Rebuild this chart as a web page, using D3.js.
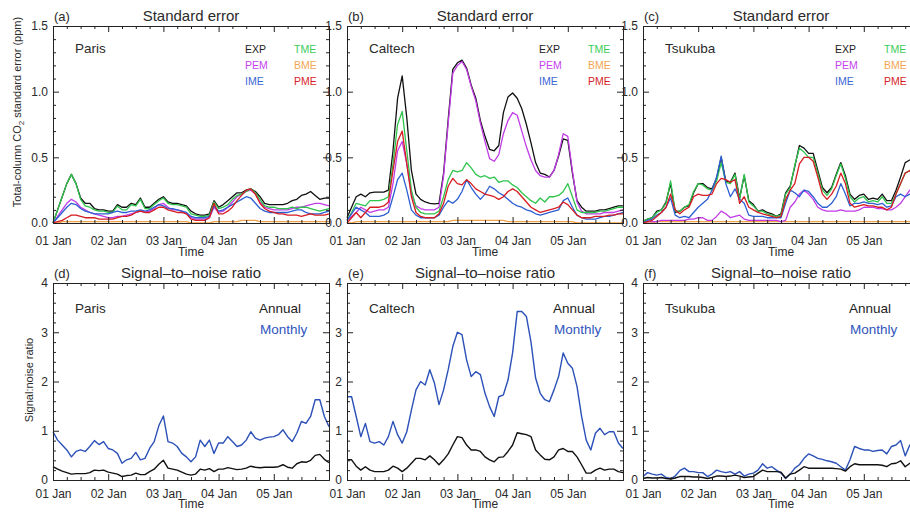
<!DOCTYPE html>
<html><head><meta charset="utf-8">
<script src="https://cdn.jsdelivr.net/npm/d3@7"></script>
<style>
body{margin:0;background:#fff}
svg{display:block}
text{font-family:"Liberation Sans",Arial,sans-serif}
</style>
</head><body>
<svg id="chart" width="910" height="512"></svg>
<script>
// ---------------- data ----------------
const hours = [0,2,4,6,8,10,12,14,16,18,20,22,24,26,28,30,32,34,36,38,40,42,44,46,48,50,52,54,56,58,
  60,62,64,66,68,70,72,74,76,78,80,82,84,86,88,90,92,94,96,98,100,102,104,106,108,110,112,114,116,118,120];
const dayTicks = [0,24,48,72,96,120];
const dayLabels = ["01 Jan","02 Jan","03 Jan","04 Jan","05 Jan"];
const sites = ["Paris","Caltech","Tsukuba"];
const seriesNames = ["EXP","PEM","IME","TME","BME","PME"];
const seTicks = [0,0.5,1.0,1.5];
const snrTicks = [0,1,2,3,4];
const panelLettersTop = ["(a)","(b)","(c)"];
const panelLettersBottom = ["(d)","(e)","(f)"];

// Paris standard error (ppm)
const parisEXP = [0.00,0.10,0.20,0.30,0.37,0.30,0.19,0.15,0.15,0.11,
 0.10,0.10,0.09,0.09,0.14,0.12,0.12,0.15,0.14,0.19,
 0.12,0.12,0.15,0.18,0.20,0.16,0.15,0.15,0.14,0.13,
 0.09,0.07,0.06,0.06,0.07,0.17,0.12,0.14,0.17,0.20,
 0.23,0.23,0.25,0.26,0.24,0.20,0.15,0.14,0.14,0.14,
 0.14,0.15,0.17,0.18,0.21,0.22,0.24,0.21,0.18,0.19,0.19];
const parisTME = [0.00,0.10,0.20,0.30,0.37,0.30,0.18,0.13,0.12,0.10,
 0.09,0.09,0.08,0.08,0.13,0.10,0.10,0.14,0.13,0.18,
 0.11,0.11,0.14,0.17,0.19,0.15,0.14,0.14,0.13,0.12,
 0.07,0.06,0.05,0.05,0.06,0.16,0.11,0.12,0.14,0.18,
 0.21,0.22,0.24,0.26,0.23,0.18,0.13,0.12,0.12,0.11,
 0.11,0.11,0.12,0.11,0.12,0.12,0.11,0.10,0.09,0.10,0.11];
const parisPEM = [0.00,0.05,0.10,0.15,0.18,0.16,0.12,0.10,0.08,0.07,
 0.06,0.05,0.04,0.04,0.05,0.05,0.06,0.07,0.08,0.09,
 0.08,0.09,0.11,0.14,0.15,0.12,0.10,0.10,0.09,0.07,
 0.04,0.03,0.03,0.03,0.04,0.12,0.08,0.09,0.12,0.16,
 0.20,0.22,0.24,0.25,0.22,0.16,0.12,0.11,0.10,0.10,
 0.10,0.10,0.11,0.12,0.12,0.13,0.14,0.15,0.15,0.14,0.13];
const parisIME = [0.00,0.04,0.08,0.12,0.15,0.14,0.11,0.09,0.08,0.07,
 0.07,0.07,0.07,0.08,0.09,0.08,0.08,0.09,0.09,0.10,
 0.09,0.10,0.12,0.14,0.13,0.11,0.11,0.10,0.09,0.08,
 0.05,0.04,0.04,0.04,0.05,0.13,0.09,0.10,0.12,0.14,
 0.16,0.18,0.20,0.19,0.15,0.11,0.09,0.08,0.08,0.08,
 0.08,0.08,0.09,0.10,0.10,0.08,0.07,0.07,0.07,0.08,0.09];
const parisBME = [0.00,0.00,0.01,0.01,0.01,0.01,0.01,0.01,0.01,0.01,
 0.01,0.01,0.01,0.01,0.01,0.01,0.01,0.01,0.01,0.01,
 0.01,0.01,0.01,0.01,0.01,0.01,0.01,0.01,0.01,0.01,
 0.00,0.00,0.00,0.00,0.00,0.01,0.01,0.01,0.01,0.01,
 0.01,0.02,0.02,0.02,0.02,0.01,0.01,0.01,0.01,0.01,
 0.01,0.01,0.01,0.01,0.01,0.01,0.01,0.01,0.01,0.01,0.01];
const parisPME = [0.00,0.01,0.02,0.04,0.06,0.06,0.05,0.04,0.04,0.04,
 0.03,0.03,0.03,0.03,0.04,0.05,0.05,0.06,0.08,0.09,
 0.08,0.08,0.10,0.12,0.12,0.10,0.09,0.08,0.08,0.07,
 0.03,0.02,0.02,0.02,0.04,0.15,0.07,0.07,0.09,0.12,
 0.17,0.21,0.25,0.26,0.22,0.15,0.11,0.09,0.08,0.07,
 0.07,0.06,0.06,0.06,0.05,0.06,0.07,0.06,0.06,0.06,0.07];

// Caltech standard error (ppm)
const caltechEXP = [0.04,0.12,0.20,0.22,0.20,0.23,0.235,0.235,0.235,0.25,
 0.55,0.95,1.12,0.80,0.40,0.22,0.18,0.16,0.15,0.145,
 0.15,0.38,0.79,1.17,1.22,1.24,1.18,1.05,0.95,0.78,
 0.66,0.56,0.55,0.59,0.84,0.96,0.99,0.95,0.87,0.75,
 0.61,0.46,0.38,0.37,0.35,0.40,0.51,0.64,0.63,0.38,
 0.17,0.12,0.09,0.09,0.09,0.10,0.10,0.11,0.12,0.13,0.13];
const caltechPEM = [0.02,0.05,0.08,0.12,0.10,0.08,0.09,0.10,0.10,0.12,
 0.30,0.55,0.62,0.45,0.22,0.13,0.11,0.10,0.10,0.10,
 0.12,0.36,0.76,1.14,1.20,1.23,1.17,1.04,0.93,0.76,
 0.62,0.49,0.47,0.52,0.68,0.78,0.84,0.82,0.70,0.58,
 0.48,0.40,0.36,0.35,0.35,0.40,0.52,0.68,0.66,0.40,
 0.16,0.09,0.07,0.07,0.07,0.07,0.08,0.08,0.08,0.09,0.10];
const caltechIME = [0.02,0.07,0.12,0.10,0.08,0.05,0.05,0.05,0.06,0.08,
 0.20,0.33,0.38,0.25,0.10,0.06,0.04,0.04,0.04,0.04,
 0.06,0.12,0.17,0.15,0.18,0.24,0.33,0.27,0.22,0.18,
 0.22,0.28,0.26,0.23,0.21,0.18,0.15,0.13,0.12,0.10,
 0.09,0.07,0.06,0.07,0.08,0.09,0.10,0.17,0.19,0.12,
 0.06,0.04,0.03,0.03,0.03,0.04,0.05,0.05,0.06,0.07,0.08];
const caltechTME = [0.02,0.08,0.15,0.14,0.13,0.17,0.17,0.17,0.18,0.20,
 0.45,0.75,0.85,0.55,0.25,0.12,0.08,0.07,0.07,0.07,
 0.09,0.20,0.33,0.40,0.39,0.40,0.46,0.42,0.37,0.35,
 0.36,0.34,0.35,0.31,0.32,0.32,0.29,0.27,0.23,0.20,
 0.17,0.15,0.19,0.16,0.20,0.20,0.21,0.24,0.30,0.20,
 0.10,0.08,0.08,0.08,0.08,0.09,0.09,0.10,0.11,0.12,0.12];
const caltechBME = [0.00,0.00,0.01,0.01,0.01,0.01,0.01,0.01,0.01,0.01,
 0.01,0.01,0.01,0.01,0.01,0.01,0.01,0.01,0.01,0.01,
 0.01,0.01,0.01,0.02,0.02,0.02,0.02,0.02,0.02,0.02,
 0.02,0.02,0.02,0.02,0.02,0.01,0.01,0.01,0.01,0.01,
 0.01,0.01,0.01,0.01,0.01,0.01,0.01,0.01,0.01,0.01,
 0.00,0.00,0.00,0.00,0.00,0.00,0.00,0.00,0.00,0.00,0.00];
const caltechPME = [0.00,0.04,0.08,0.04,0.08,0.12,0.12,0.12,0.13,0.16,
 0.40,0.62,0.70,0.45,0.20,0.08,0.05,0.04,0.04,0.04,
 0.07,0.15,0.28,0.34,0.30,0.29,0.33,0.30,0.26,0.24,
 0.22,0.21,0.20,0.18,0.20,0.24,0.26,0.24,0.20,0.16,
 0.12,0.10,0.08,0.09,0.10,0.11,0.12,0.16,0.14,0.10,
 0.06,0.04,0.04,0.04,0.05,0.05,0.05,0.06,0.06,0.07,0.07];

// Tsukuba standard error (ppm)
const tsukubaEXP = [0.015,0.03,0.04,0.09,0.10,0.16,0.30,0.08,0.09,0.12,
 0.13,0.23,0.30,0.30,0.27,0.26,0.34,0.50,0.32,0.31,
 0.38,0.19,0.36,0.17,0.14,0.09,0.10,0.08,0.07,0.05,
 0.07,0.23,0.28,0.43,0.59,0.57,0.53,0.53,0.40,0.27,
 0.23,0.27,0.37,0.46,0.36,0.22,0.18,0.21,0.22,0.18,
 0.19,0.18,0.22,0.17,0.17,0.25,0.35,0.46,0.48,0.47,0.45];
const tsukubaPEM = [0.01,0.01,0.01,0.01,0.02,0.02,0.02,0.02,0.02,0.02,
 0.03,0.03,0.04,0.04,0.02,0.02,0.05,0.09,0.07,0.04,
 0.05,0.06,0.03,0.02,0.02,0.02,0.02,0.02,0.02,0.02,
 0.01,0.02,0.12,0.16,0.22,0.25,0.22,0.18,0.12,0.10,
 0.09,0.09,0.09,0.10,0.09,0.09,0.09,0.10,0.12,0.12,
 0.12,0.11,0.11,0.10,0.10,0.12,0.15,0.20,0.25,0.23,0.22];
const tsukubaIME = [0.00,0.02,0.03,0.06,0.08,0.12,0.19,0.06,0.04,0.05,
 0.04,0.08,0.12,0.15,0.18,0.25,0.35,0.51,0.30,0.20,
 0.26,0.18,0.15,0.06,0.05,0.05,0.05,0.04,0.04,0.04,
 0.04,0.15,0.25,0.23,0.20,0.25,0.24,0.20,0.15,0.12,
 0.12,0.15,0.20,0.30,0.22,0.13,0.15,0.15,0.16,0.15,
 0.15,0.14,0.15,0.12,0.13,0.20,0.22,0.20,0.22,0.21,0.22];
const tsukubaTME = [0.01,0.03,0.04,0.08,0.10,0.15,0.32,0.09,0.09,0.12,
 0.14,0.24,0.30,0.29,0.26,0.25,0.32,0.46,0.31,0.30,
 0.37,0.18,0.37,0.16,0.13,0.09,0.09,0.07,0.06,0.05,
 0.06,0.22,0.27,0.44,0.57,0.54,0.50,0.50,0.38,0.25,
 0.21,0.26,0.36,0.45,0.34,0.20,0.16,0.19,0.20,0.16,
 0.17,0.16,0.20,0.15,0.15,0.22,0.30,0.38,0.40,0.39,0.37];
const tsukubaBME = [0.00,0.00,0.00,0.01,0.01,0.01,0.01,0.01,0.01,0.01,
 0.01,0.01,0.01,0.01,0.01,0.01,0.01,0.01,0.01,0.01,
 0.01,0.01,0.01,0.01,0.01,0.01,0.01,0.01,0.01,0.01,
 0.01,0.01,0.01,0.01,0.01,0.01,0.01,0.01,0.01,0.01,
 0.01,0.01,0.01,0.01,0.01,0.01,0.01,0.01,0.01,0.01,
 0.01,0.01,0.01,0.01,0.01,0.01,0.01,0.01,0.01,0.01,0.01];
const tsukubaPME = [0.00,0.01,0.02,0.05,0.08,0.12,0.22,0.10,0.07,0.10,
 0.12,0.20,0.22,0.21,0.21,0.22,0.30,0.34,0.33,0.31,
 0.33,0.15,0.20,0.12,0.10,0.08,0.07,0.06,0.05,0.04,
 0.05,0.18,0.25,0.30,0.45,0.50,0.50,0.47,0.35,0.22,
 0.18,0.22,0.28,0.38,0.30,0.15,0.12,0.13,0.14,0.13,
 0.13,0.12,0.12,0.10,0.12,0.22,0.30,0.38,0.40,0.36,0.34];

// Signal-to-noise ratio
const parisAnnual = [0.27,0.22,0.18,0.15,0.12,0.13,0.13,0.13,0.15,0.20,
 0.19,0.20,0.16,0.14,0.12,0.07,0.09,0.10,0.14,0.11,
 0.11,0.17,0.22,0.32,0.40,0.24,0.22,0.20,0.16,0.12,
 0.10,0.12,0.22,0.20,0.23,0.17,0.22,0.22,0.25,0.23,
 0.21,0.22,0.24,0.28,0.26,0.25,0.26,0.26,0.26,0.27,
 0.31,0.26,0.24,0.33,0.37,0.36,0.40,0.50,0.52,0.42,0.35];
const parisMonthly = [0.98,0.81,0.71,0.61,0.47,0.58,0.61,0.58,0.68,0.80,
 0.72,0.78,0.64,0.61,0.54,0.34,0.41,0.44,0.56,0.41,
 0.44,0.64,0.78,1.10,1.30,0.78,0.75,0.68,0.54,0.47,
 0.37,0.47,0.81,0.68,0.81,0.54,0.75,0.75,0.88,0.78,
 0.68,0.71,0.81,0.98,0.85,0.81,0.85,0.87,0.88,0.92,
 1.02,0.88,0.78,0.95,1.19,1.15,1.29,1.63,1.63,1.29,1.08];
const caltechAnnual = [0.41,0.41,0.28,0.20,0.27,0.20,0.17,0.17,0.17,0.20,
 0.28,0.24,0.17,0.24,0.34,0.44,0.44,0.41,0.49,0.41,
 0.31,0.41,0.53,0.71,0.88,0.86,0.71,0.61,0.61,0.58,
 0.47,0.41,0.37,0.46,0.47,0.58,0.71,0.96,0.94,0.92,
 0.88,0.61,0.51,0.42,0.41,0.47,0.61,0.64,0.58,0.58,
 0.47,0.31,0.14,0.14,0.20,0.24,0.20,0.22,0.22,0.17,0.15];
const caltechMonthly = [1.69,1.69,1.29,0.88,1.15,0.78,0.75,0.78,0.71,0.88,
 1.19,0.92,0.75,0.98,1.42,1.83,2.00,1.93,2.24,1.97,
 1.53,1.83,2.24,2.71,3.00,2.95,2.44,2.10,2.20,2.14,
 1.76,1.49,1.29,1.69,1.73,2.03,2.58,3.42,3.42,3.32,
 2.80,2.07,1.76,1.63,1.59,1.83,2.10,2.58,2.37,2.27,
 1.90,1.29,0.81,0.61,0.95,1.05,0.92,0.98,0.98,0.75,0.64];
const tsukubaAnnual = [0.03,0.05,0.04,0.04,0.05,0.03,0.02,0.04,0.07,0.07,
 0.07,0.06,0.06,0.05,0.03,0.05,0.08,0.08,0.07,0.08,
 0.10,0.08,0.05,0.06,0.07,0.14,0.20,0.17,0.17,0.17,
 0.16,0.04,0.12,0.14,0.20,0.27,0.24,0.24,0.24,0.24,
 0.24,0.24,0.23,0.22,0.18,0.27,0.33,0.31,0.31,0.31,
 0.31,0.31,0.30,0.27,0.33,0.34,0.39,0.27,0.34,0.34,0.34];
const tsukubaMonthly = [0.07,0.15,0.12,0.10,0.12,0.05,0.03,0.08,0.19,0.24,
 0.17,0.17,0.15,0.15,0.07,0.12,0.20,0.17,0.15,0.17,
 0.12,0.17,0.08,0.12,0.14,0.20,0.33,0.24,0.27,0.20,
 0.14,0.03,0.12,0.24,0.31,0.44,0.53,0.49,0.44,0.42,
 0.39,0.37,0.34,0.27,0.20,0.41,0.68,0.64,0.61,0.61,
 0.58,0.60,0.61,0.53,0.68,0.71,0.80,0.49,0.71,0.76,0.78];

// ---------------- build ----------------
const seData = [
  {EXP:parisEXP, PEM:parisPEM, IME:parisIME, TME:parisTME, BME:parisBME, PME:parisPME},
  {EXP:caltechEXP, PEM:caltechPEM, IME:caltechIME, TME:caltechTME, BME:caltechBME, PME:caltechPME},
  {EXP:tsukubaEXP, PEM:tsukubaPEM, IME:tsukubaIME, TME:tsukubaTME, BME:tsukubaBME, PME:tsukubaPME}
];
const snrData = [
  {Annual:parisAnnual, Monthly:parisMonthly},
  {Annual:caltechAnnual, Monthly:caltechMonthly},
  {Annual:tsukubaAnnual, Monthly:tsukubaMonthly}
];
const colors = {EXP:"#111111", PEM:"#c23be6", IME:"#2d5fd2", TME:"#2fc44c", BME:"#f2a24a", PME:"#d61d22",
  Annual:"#111111", Monthly:"#2b50b8"};
const textColors = {EXP:"#222222", PEM:"#c444ee", IME:"#3a66d6", TME:"#3ccc5a", BME:"#f2a655", PME:"#d81e28",
  Annual:"#222222", Monthly:"#2f55bd"};
const drawOrder = ["BME","EXP","PEM","TME","IME","PME"];
const textFill = "#2a2a2a";

const svg = d3.select("#chart");
const lefts = [53, 347, 643];
const pw = 276;
const topRow = {top:26, bottom:223};
const botRow = {top:283, bottom:480};
const minorHours = d3.range(0,121,6).filter(h => h % 24 !== 0);

function addText(x, y, size, str, fill, anchor) {
  return svg.append("text").attr("x", x).attr("y", y).attr("font-size", size)
    .attr("text-anchor", anchor || "start").style("fill", fill || textFill).text(str);
}

function axes(x, y, row, yMajor, yMinor, yFmt, xPad) {
  const l = x.range()[0], r = x.range()[1];
  const style = g => {
    g.selectAll(".domain").attr("stroke","#222").attr("stroke-width",1);
    g.selectAll(".tick line").attr("stroke","#222");
    g.selectAll("text").attr("font-family",null).attr("font-size",12).style("fill",textFill);
  };
  svg.append("g").attr("transform",`translate(0,${row.bottom})`)
    .call(d3.axisBottom(x).tickValues(dayTicks).tickSize(-6).tickSizeOuter(0).tickPadding(xPad)
      .tickFormat((d,i) => dayLabels[i] || "")).call(style);
  svg.append("g").attr("transform",`translate(0,${row.bottom})`)
    .call(d3.axisBottom(x).tickValues(minorHours).tickSize(-3).tickSizeOuter(0).tickFormat("")).call(style);
  svg.append("g").attr("transform",`translate(0,${row.top})`)
    .call(d3.axisTop(x).tickValues(dayTicks).tickSize(-6).tickSizeOuter(0).tickFormat("")).call(style);
  svg.append("g").attr("transform",`translate(0,${row.top})`)
    .call(d3.axisTop(x).tickValues(minorHours).tickSize(-3).tickSizeOuter(0).tickFormat("")).call(style);
  svg.append("g").attr("transform",`translate(${l},0)`)
    .call(d3.axisLeft(y).tickValues(yMajor).tickSize(-6).tickSizeOuter(0).tickPadding(5).tickFormat(yFmt)).call(style);
  svg.append("g").attr("transform",`translate(${l},0)`)
    .call(d3.axisLeft(y).tickValues(yMinor).tickSize(-3).tickSizeOuter(0).tickFormat("")).call(style);
  svg.append("g").attr("transform",`translate(${r},0)`)
    .call(d3.axisRight(y).tickValues(yMajor).tickSize(-6).tickSizeOuter(0).tickFormat("")).call(style);
  svg.append("g").attr("transform",`translate(${r},0)`)
    .call(d3.axisRight(y).tickValues(yMinor).tickSize(-3).tickSizeOuter(0).tickFormat("")).call(style);
}

const seMinor = d3.range(0, 1.51, 0.1).map(v => +v.toFixed(2)).filter(v => Math.abs(v*2 - Math.round(v*2)) > 1e-6);
const snrMinor = d3.range(0, 4.01, 0.2).map(v => +v.toFixed(2)).filter(v => Math.abs(v - Math.round(v)) > 1e-6);

sites.forEach((site, p) => {
  const left = lefts[p];
  const x = d3.scaleLinear().domain([0,120]).range([left, left + pw]);
  const cx = left + pw/2;

  // ---- top: standard error ----
  const yS = d3.scaleLinear().domain([0,1.5]).range([topRow.bottom, topRow.top]);
  const lineS = d3.line().x((d,i) => x(hours[i])).y(d => yS(d));
  drawOrder.forEach(name => {
    svg.append("path").datum(seData[p][name]).attr("d", lineS)
      .attr("fill","none").attr("stroke", colors[name]).attr("stroke-width",1.3)
      .attr("stroke-linejoin","round");
  });
  axes(x, yS, topRow, seTicks, seMinor, d3.format(".1f"), 13);
  addText(left + 1, 21, 13, panelLettersTop[p]);
  addText(cx, 21, 15, "Standard error", null, "middle");
  addText(cx, 256, 12, "Time", null, "middle");
  addText(left + 22, 53, 13.5, site);
  const legendCols = [["EXP","PEM","IME"],["TME","BME","PME"]];
  legendCols.forEach((col, ci) => col.forEach((name, ri) => {
    addText(left + (ci ? 241 : 192), 53 + ri*16, 10.5, name, textColors[name]);
  }));

  // ---- bottom: signal-to-noise ----
  const yN = d3.scaleLinear().domain([0,4]).range([botRow.bottom, botRow.top]);
  const lineN = d3.line().x((d,i) => x(hours[i])).y(d => yN(d));
  ["Monthly","Annual"].forEach(name => {
    svg.append("path").datum(snrData[p][name]).attr("d", lineN)
      .attr("fill","none").attr("stroke", colors[name]).attr("stroke-width",1.4)
      .attr("stroke-linejoin","round");
  });
  axes(x, yN, botRow, snrTicks, snrMinor, d3.format("d"), 9);
  addText(left + 1, 278, 13, panelLettersBottom[p]);
  addText(cx, 278, 15, "Signal–to–noise ratio", null, "middle");
  addText(cx, 508, 12, "Time", null, "middle");
  addText(left + 22, 313, 13.5, site);
  addText(left + 206, 313, 13.5, "Annual", textColors.Annual);
  addText(left + 207, 334, 13.5, "Monthly", textColors.Monthly);
});

// y-axis titles
const yt1 = svg.append("text").attr("transform","translate(21,112) rotate(-90)").attr("text-anchor","middle")
  .attr("font-size",11).style("fill",textFill);
yt1.append("tspan").text("Total-column CO");
yt1.append("tspan").attr("font-size",8).attr("dy",3).text("2");
yt1.append("tspan").attr("dy",-3).text(" standard error (ppm)");
svg.append("text").attr("transform","translate(33,380) rotate(-90)").attr("text-anchor","middle")
  .attr("font-size",11).style("fill",textFill).text("Signal:noise ratio");
</script>
</body></html>
